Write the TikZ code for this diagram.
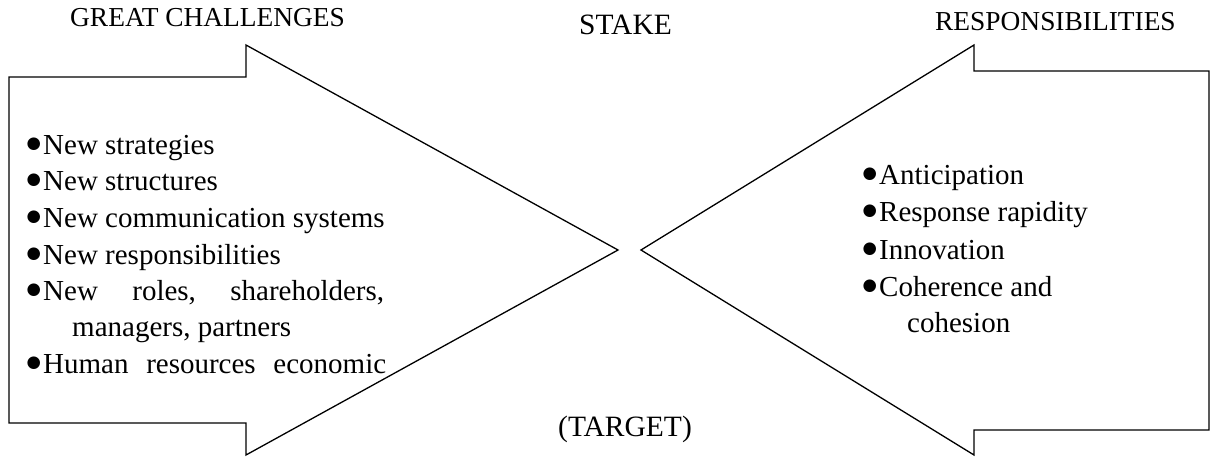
\documentclass[tikz,border=0pt]{standalone}
\usepackage{fontspec}
\setmainfont{Liberation Serif}
\newfontfamily\bulfont{DejaVu Sans}
% round bullet followed by a fixed gap before the item text
\newcommand{\itembul}{\makebox[17pt][l]{\hspace{0.5pt}\raisebox{6pt}{\bulfont\fontsize{16.5}{16.5}\selectfont ●}}}
\begin{document}
\begin{tikzpicture}[x=1pt,y=-1pt,
  outline/.style={draw=black,line width=1.3pt,line join=miter},
  bodytext/.style={anchor=base west,inner sep=0pt,font=\fontsize{29}{36}\selectfont},
  sidetitle/.style={anchor=base west,inner sep=0pt,font=\fontsize{27.4}{32}\selectfont},
  midtitle/.style={anchor=base,inner sep=0pt,font=\fontsize{29.5}{34}\selectfont}]
\useasboundingbox (0,0) rectangle (1212,457);

% left block arrow pointing right
\coordinate (ltip) at (618,250);
\draw[outline] (9,77) -- (246,77) -- (246,45) -- (ltip) -- (246,455)
  -- (246,423) -- (9,423) -- cycle;

% right block arrow pointing left
\coordinate (rtip) at (641,250);
\draw[outline] (1209,71) -- (974,71) -- (974,45) -- (rtip) -- (974,455)
  -- (974,430) -- (1209,430) -- cycle;

% headings
\node[sidetitle] (tl) at (70,27) {GREAT CHALLENGES};
\node[midtitle] (tc) at (625.5,35) {STAKE};
\node[sidetitle] (tr) at (935,31) {RESPONSIBILITIES};
\node[midtitle] (tb) at (625,436) {(TARGET)};

% left list
\node[bodytext] (l1) at (26,155) {\itembul New strategies};
\node[bodytext] (l2) at (26,191) {\itembul New structures};
\node[bodytext] (l3) at (26,227) {\itembul New communication systems};
\node[bodytext] (l4) at (26,264) {\itembul New responsibilities};
\node[bodytext] (l5) at (26,300) {\itembul\makebox[341pt][s]{New\hfill roles,\hfill shareholders,}};
\node[bodytext] (l6) at (72,336) {managers, partners};
\node[bodytext] (l7) at (26,373) {\itembul\makebox[343pt][s]{Human\hfill resources\hfill economic}};

% right list
\node[bodytext] (r1) at (862,185) {\itembul Anticipation};
\node[bodytext] (r2) at (862,222) {\itembul Response rapidity};
\node[bodytext] (r3) at (862,259) {\itembul Innovation};
\node[bodytext] (r4) at (862,296) {\itembul Coherence and};
\node[bodytext] (r5) at (907,332) {cohesion};
\end{tikzpicture}
\end{document}
